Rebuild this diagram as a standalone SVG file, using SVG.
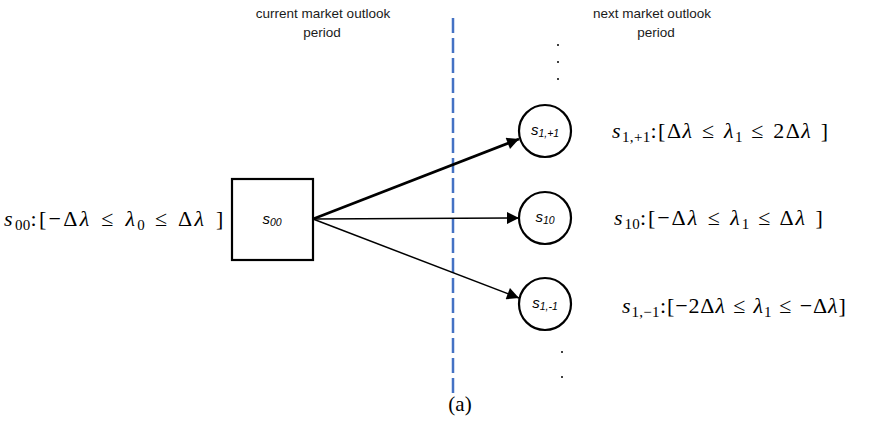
<svg xmlns="http://www.w3.org/2000/svg" width="875" height="435" viewBox="0 0 875 435">
  <style>
    .hdr { font-family: "Liberation Sans", Arial, sans-serif; font-size: 13.5px; fill: #1a1a1a; text-anchor: middle; }
    .lbl { font-family: "Liberation Sans", Arial, sans-serif; font-size: 15px; font-style: italic; fill: #000; text-anchor: middle; }
    .sub { font-size: 10.5px; }
    .math { font-family: "Liberation Serif", "Times New Roman", serif; font-size: 22px; fill: #000; }
    .it { font-style: italic; }
    .ms { font-size: 15px; letter-spacing: 0.3px; }
    .cap { font-family: "Liberation Serif", "Times New Roman", serif; font-size: 21px; fill: #000; text-anchor: middle; }
    .shape { fill: #fff; stroke: #000; stroke-width: 2.2; }
    .edge { stroke: #000; fill: none; }
    .dot { fill: #000; }
  </style>
  <defs>
    <marker id="head" viewBox="0 0 10 10" refX="10" refY="5" markerWidth="18" markerHeight="12" markerUnits="userSpaceOnUse" orient="auto">
      <path d="M0,0 L10,5 L0,10 Z" fill="#000"/>
    </marker>
  </defs>

  <rect width="875" height="435" fill="#fff"/>

  <!-- period headers -->
  <text class="hdr" x="323" y="18">current market outlook</text>
  <text class="hdr" x="322" y="37">period</text>
  <text class="hdr" x="652" y="18">next market outlook</text>
  <text class="hdr" x="656" y="37">period</text>

  <!-- boundary between the two periods -->
  <line x1="453" y1="18" x2="453" y2="395" stroke="#4472C4" stroke-width="2.5" stroke-dasharray="15 5"/>

  <!-- connectors -->
  <g id="connectors">
    <line class="edge" x1="313" y1="219" x2="519" y2="139" stroke-width="2.6" marker-end="url(#head)"/>
    <line class="edge" x1="313" y1="219" x2="519" y2="218" stroke-width="1.5" marker-end="url(#head)"/>
    <line class="edge" x1="313" y1="219" x2="519" y2="298" stroke-width="1.5" marker-end="url(#head)"/>
  </g>

  <!-- current state -->
  <g id="node-s00">
    <rect class="shape" x="232" y="179" width="81" height="81"/>
    <text class="lbl" x="272" y="224">s<tspan class="sub" dy="2">00</tspan></text>
  </g>
  <text class="math" x="4" y="226" style="letter-spacing:2.3px;word-spacing:2px"><tspan class="it">s</tspan><tspan class="ms" dy="4">00</tspan><tspan dy="-4">:[−Δ</tspan><tspan class="it">λ</tspan> ≤ <tspan class="it">λ</tspan><tspan class="ms" dy="4">0</tspan><tspan dy="-4"> ≤ Δ</tspan><tspan class="it">λ</tspan> ]</text>

  <!-- next states -->
  <g id="node-s1p1">
    <circle class="shape" cx="545" cy="131" r="26"/>
    <text class="lbl" x="545" y="135">s<tspan class="sub" dy="2">1,+1</tspan></text>
  </g>
  <g id="node-s10">
    <circle class="shape" cx="545" cy="218" r="26"/>
    <text class="lbl" x="545" y="222">s<tspan class="sub" dy="2">10</tspan></text>
  </g>
  <g id="node-s1m1">
    <circle class="shape" cx="545" cy="304" r="26"/>
    <text class="lbl" x="545" y="308">s<tspan class="sub" dy="2">1,-1</tspan></text>
  </g>

  <text class="math" x="612" y="138" style="letter-spacing:1.5px;word-spacing:1.4px"><tspan class="it">s</tspan><tspan class="ms" dy="4">1,+1</tspan><tspan dy="-4">:[Δ</tspan><tspan class="it">λ</tspan> ≤ <tspan class="it">λ</tspan><tspan class="ms" dy="4">1</tspan><tspan dy="-4"> ≤ 2Δ</tspan><tspan class="it">λ</tspan> ]</text>
  <text class="math" x="614" y="225" style="letter-spacing:1.9px;word-spacing:1.2px"><tspan class="it">s</tspan><tspan class="ms" dy="4">10</tspan><tspan dy="-4">:[−Δ</tspan><tspan class="it">λ</tspan> ≤ <tspan class="it">λ</tspan><tspan class="ms" dy="4">1</tspan><tspan dy="-4"> ≤ Δ</tspan><tspan class="it">λ</tspan> ]</text>
  <text class="math" x="622" y="313" style="letter-spacing:0.9px;word-spacing:1px"><tspan class="it">s</tspan><tspan class="ms" dy="4">1,−1</tspan><tspan dy="-4">:[−2Δ</tspan><tspan class="it">λ</tspan> ≤ <tspan class="it">λ</tspan><tspan class="ms" dy="4">1</tspan><tspan dy="-4"> ≤ −Δ</tspan><tspan class="it">λ</tspan>]</text>

  <!-- continuation dots -->
  <circle class="dot" cx="558" cy="45" r="1"/>
  <circle class="dot" cx="558" cy="62" r="1"/>
  <circle class="dot" cx="558" cy="79" r="1"/>
  <circle class="dot" cx="562" cy="352" r="1"/>
  <circle class="dot" cx="562" cy="377" r="1"/>

  <text class="cap" x="460" y="411">(a)</text>
</svg>
